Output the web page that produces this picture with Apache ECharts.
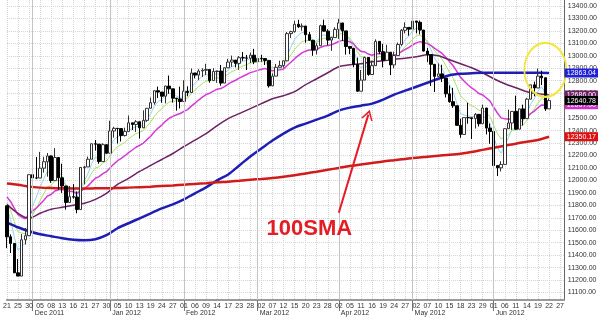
<!DOCTYPE html>
<html>
<head>
<meta charset="utf-8">
<script src="https://cdn.jsdelivr.net/npm/echarts@6/dist/echarts.min.js"></script>
<style>
  html, body { margin: 0; padding: 0; background: #fff; }
  #chart { width: 600px; height: 317px; }
</style>
</head>
<body>
<div id="chart"></div>
<script>
// trading sessions shown on the axis (last four are empty future days)
const monthDays = [
  ['Nov 2011', [21, 22, 23, 25, 28, 29, 30]],
  ['Dec 2011', [1, 2, 5, 6, 7, 8, 9, 12, 13, 14, 15, 16, 19, 20, 21, 22, 23, 27, 28, 29, 30]],
  ['Jan 2012', [3, 4, 5, 6, 9, 10, 11, 12, 13, 17, 18, 19, 20, 23, 24, 25, 26, 27, 30, 31]],
  ['Feb 2012', [1, 2, 3, 6, 7, 8, 9, 10, 13, 14, 15, 16, 17, 21, 22, 23, 24, 27, 28, 29]],
  ['Mar 2012', [1, 2, 5, 6, 7, 8, 9, 12, 13, 14, 15, 16, 19, 20, 21, 22, 23, 26, 27, 28, 29, 30]],
  ['Apr 2012', [2, 3, 4, 5, 9, 10, 11, 12, 13, 16, 17, 18, 19, 20, 23, 24, 25, 26, 27, 30]],
  ['May 2012', [1, 2, 3, 4, 7, 8, 9, 10, 11, 14, 15, 16, 17, 18, 21, 22, 23, 24, 25, 29, 30, 31]],
  ['Jun 2012', [1, 4, 5, 6, 7, 8, 11, 12, 13, 14, 15, 18, 19, 20, 21, 22, 25, 26, 27, 28]]
];

const opens = [11796, 11547, 11494, 11258, 11232, 11523, 11556, 12046, 12020, 12019,
  12098, 12150, 12196, 11998, 12184, 12021, 11955, 11823, 11869, 11866,
  11766, 12104, 12108, 12170, 12294, 12291, 12151, 12287, 12218, 12397,
  12418, 12416, 12360, 12393, 12462, 12449, 12471, 12422, 12482, 12579,
  12624, 12720, 12709, 12676, 12757, 12735, 12660, 12654, 12633, 12716,
  12705, 12862, 12845, 12878, 12884, 12890, 12801, 12874, 12878, 12781,
  12904, 12950, 12966, 12939, 12985, 12983, 12981, 13005, 12952, 12980,
  12978, 12963, 12759, 12837, 12908, 12922, 12960, 13178, 13194, 13253,
  13233, 13239, 13170, 13125, 13046, 13081, 13242, 13198, 13126, 13146,
  13212, 13264, 13200, 13075, 13060, 12930, 12716, 12805, 12987, 12850,
  12921, 13116, 13033, 12964, 13029, 12927, 13002, 13091, 13205, 13228,
  13214, 13279, 13269, 13207, 13038, 13009, 12932, 12835, 12855, 12821,
  12695, 12632, 12599, 12442, 12369, 12504, 12503, 12496, 12530, 12455,
  12581, 12420, 12393, 12119, 12101, 12128, 12415, 12461, 12554, 12411,
  12574, 12496, 12652, 12767, 12742, 12837, 12824, 12574];

const closes = [11547, 11494, 11258, 11232, 11523, 11556, 12046, 12020, 12019, 12098,
  12150, 12196, 11998, 12184, 12021, 11955, 11823, 11869, 11866, 11766,
  12104, 12108, 12170, 12294, 12291, 12151, 12287, 12218, 12397, 12418,
  12416, 12360, 12393, 12462, 12449, 12471, 12422, 12482, 12579, 12624,
  12720, 12709, 12676, 12757, 12735, 12660, 12654, 12633, 12716, 12705,
  12862, 12845, 12878, 12884, 12890, 12801, 12874, 12878, 12781, 12904,
  12950, 12966, 12939, 12985, 12983, 12981, 13005, 12952, 12980, 12978,
  12963, 12759, 12837, 12908, 12922, 12960, 13178, 13194, 13253, 13233,
  13239, 13170, 13125, 13046, 13081, 13242, 13198, 13126, 13146, 13212,
  13264, 13200, 13075, 13060, 12930, 12716, 12805, 12987, 12850, 12921,
  13116, 13033, 12964, 13029, 12927, 13002, 13091, 13205, 13228, 13214,
  13279, 13269, 13207, 13038, 13009, 12932, 12835, 12855, 12821, 12695,
  12632, 12599, 12442, 12369, 12504, 12503, 12496, 12530, 12455, 12581,
  12420, 12393, 12119, 12101, 12128, 12415, 12461, 12554, 12411, 12574,
  12496, 12652, 12767, 12742, 12837, 12824, 12574, 12640.78];

const lows = [11456, 11417, 11257, 11232, 11232, 11485, 11556, 11985, 12010, 12019,
  12062, 12030, 11980, 11998, 11925, 11900, 11765, 11823, 11854, 11736,
  11766, 11968, 12108, 12170, 12239, 12133, 12151, 12217, 12218, 12343,
  12296, 12312, 12352, 12393, 12404, 12389, 12336, 12420, 12470, 12578,
  12608, 12661, 12623, 12618, 12695, 12625, 12560, 12577, 12633, 12675,
  12705, 12819, 12804, 12830, 12845, 12784, 12801, 12783, 12760, 12781,
  12904, 12912, 12907, 12887, 12960, 12886, 12941, 12933, 12952, 12953,
  12926, 12745, 12759, 12837, 12907, 12905, 12958, 13143, 13186, 13224,
  13202, 13105, 13119, 13000, 13011, 13081, 13195, 13084, 13040, 13146,
  13136, 13119, 13010, 13013, 12908, 12711, 12716, 12805, 12840, 12850,
  12921, 13014, 12907, 12964, 12845, 12900, 13002, 13080, 13180, 13162,
  13175, 13180, 13172, 13035, 12951, 12758, 12710, 12834, 12789, 12666,
  12623, 12582, 12440, 12342, 12369, 12455, 12332, 12416, 12433, 12455,
  12369, 12294, 12107, 12035, 12072, 12128, 12413, 12405, 12408, 12411,
  12440, 12496, 12652, 12675, 12742, 12765, 12558, 12574];

const highs = [11796, 11566, 11494, 11369, 11569, 11618, 12046, 12055, 12188, 12229,
  12190, 12220, 12200, 12259, 12184, 12134, 11955, 11955, 11970, 11911,
  12107, 12117, 12191, 12294, 12324, 12291, 12298, 12287, 12479, 12430,
  12418, 12416, 12423, 12521, 12462, 12484, 12471, 12562, 12579, 12665,
  12720, 12753, 12709, 12760, 12842, 12735, 12660, 12752, 12804, 12755,
  12898, 12862, 12893, 12900, 12936, 12890, 12901, 12880, 12927, 12905,
  12976, 13002, 12966, 12998, 13030, 13007, 13026, 13056, 13032, 13008,
  12978, 12963, 12859, 12935, 12961, 12963, 13191, 13201, 13281, 13289,
  13260, 13239, 13191, 13125, 13101, 13250, 13290, 13213, 13153, 13229,
  13297, 13264, 13200, 13075, 13060, 12986, 12887, 12993, 12987, 12961,
  13132, 13116, 13096, 13089, 13029, 13034, 13107, 13216, 13269, 13228,
  13338, 13279, 13283, 13207, 13064, 13009, 12932, 12939, 12928, 12821,
  12762, 12743, 12599, 12495, 12504, 12623, 12503, 12541, 12533, 12607,
  12581, 12457, 12393, 12119, 12154, 12415, 12568, 12556, 12680, 12575,
  12608, 12663, 12767, 12793, 12898, 12881, 12824, 12658];

// short averages, one value per session
const avgCyan = [11782, 11686, 11543, 11439, 11467, 11497, 11680, 11793, 11868, 11945,
  12013, 12074, 12049, 12094, 12070, 12032, 11962, 11931, 11909, 11861,
  11942, 11997, 12055, 12135, 12187, 12175, 12212, 12214, 12275, 12323,
  12354, 12356, 12368, 12399, 12416, 12434, 12430, 12447, 12491, 12535,
  12597, 12634, 12648, 12684, 12701, 12687, 12676, 12662, 12680, 12688,
  12746, 12779, 12812, 12836, 12854, 12836, 12849, 12859, 12833, 12857,
  12888, 12914, 12922, 12943, 12956, 12964, 12978, 12969, 12973, 12975,
  12971, 12900, 12879, 12889, 12900, 12920, 13006, 13069, 13130, 13164,
  13189, 13183, 13164, 13125, 13110, 13154, 13169, 13155, 13152, 13172,
  13203, 13202, 13160, 13127, 13061, 12946, 12899, 12928, 12902, 12908,
  12977, 12996, 12985, 13000, 12976, 12985, 13020, 13082, 13131, 13159,
  13199, 13222, 13217, 13157, 13108, 13049, 12978, 12937, 12898, 12830,
  12764, 12709, 12620, 12536, 12525, 12518, 12511, 12517, 12496, 12524,
  12489, 12457, 12344, 12263, 12218, 12284, 12343, 12413, 12412, 12466,
  12476, 12535, 12612, 12655, 12716, 12752, 12693, 12676];

const avgGreen = [11819, 11760, 11669, 11589, 11577, 11573, 11659, 11725, 11779, 11837,
  11894, 11949, 11958, 11999, 12003, 11994, 11963, 11946, 11931, 11901,
  11938, 11969, 12006, 12058, 12100, 12109, 12141, 12155, 12199, 12239,
  12271, 12287, 12306, 12334, 12355, 12376, 12384, 12402, 12434, 12469,
  12515, 12550, 12573, 12606, 12629, 12635, 12638, 12637, 12651, 12661,
  12698, 12725, 12753, 12777, 12798, 12799, 12813, 12825, 12817, 12833,
  12854, 12874, 12886, 12904, 12918, 12929, 12943, 12945, 12951, 12956,
  12957, 12921, 12906, 12906, 12909, 12918, 12965, 13007, 13052, 13085,
  13113, 13123, 13123, 13109, 13104, 13129, 13142, 13139, 13140, 13153,
  13173, 13178, 13159, 13141, 13103, 13033, 12992, 12991, 12965, 12957,
  12986, 12995, 12989, 12996, 12983, 12986, 13005, 13041, 13075, 13100,
  13133, 13158, 13167, 13144, 13119, 13085, 13039, 13006, 12972, 12922,
  12869, 12820, 12751, 12681, 12649, 12622, 12599, 12586, 12562, 12565,
  12539, 12512, 12440, 12378, 12332, 12347, 12368, 12402, 12404, 12435,
  12446, 12483, 12535, 12573, 12621, 12658, 12643, 12643];

const avgMagenta = [11866, 11831, 11777, 11725, 11706, 11692, 11726, 11754, 11779, 11809,
  11841, 11875, 11887, 11915, 11925, 11928, 11918, 11913, 11909, 11895,
  11915, 11933, 11956, 11988, 12017, 12030, 12054, 12070, 12101, 12131,
  12158, 12177, 12198, 12223, 12244, 12266, 12281, 12300, 12327, 12355,
  12390, 12420, 12444, 12474, 12499, 12514, 12527, 12537, 12554, 12568,
  12596, 12620, 12645, 12668, 12689, 12700, 12717, 12732, 12737, 12753,
  12772, 12790, 12804, 12821, 12836, 12850, 12865, 12873, 12883, 12892,
  12899, 12886, 12881, 12884, 12888, 12895, 12922, 12948, 12977, 13001,
  13024, 13038, 13046, 13046, 13049, 13067, 13079, 13083, 13089, 13101,
  13116, 13124, 13119, 13113, 13096, 13060, 13036, 13031, 13014, 13005,
  13016, 13018, 13013, 13015, 13007, 13007, 13015, 13033, 13052, 13067,
  13087, 13104, 13114, 13107, 13098, 13082, 13059, 13040, 13019, 12988,
  12954, 12920, 12875, 12827, 12796, 12768, 12742, 12722, 12697, 12686,
  12661, 12636, 12587, 12541, 12502, 12494, 12491, 12497, 12489, 12497,
  12497, 12512, 12536, 12556, 12583, 12606, 12603, 12607];

// slow averages, read every third session
const slowStep = 3;
const avgPurple = [11808, 11736, 11696, 11736, 11768, 11784, 11800, 11816, 11848, 11896,
  11968, 12016, 12072, 12120, 12168, 12216, 12272, 12324, 12376, 12440,
  12496, 12536, 12576, 12616, 12656, 12680, 12712, 12768, 12816, 12864,
  12912, 12928, 12936, 12952, 12960, 12972, 12980, 12992, 13008, 13000,
  12968, 12936, 12904, 12864, 12816, 12776, 12744, 12712, 12696, 12686];
const sma100 = [11664, 11624, 11592, 11568, 11552, 11536, 11524, 11520, 11528, 11560,
  11616, 11656, 11696, 11736, 11776, 11808, 11848, 11896, 11944, 12000,
  12048, 12120, 12192, 12256, 12320, 12376, 12424, 12456, 12488, 12520,
  12560, 12584, 12600, 12616, 12648, 12688, 12720, 12752, 12784, 12816,
  12844, 12856, 12860, 12864, 12864, 12864, 12864, 12864, 12864, 12863.04];
const sma200 = [11975, 11965, 11950, 11942, 11938, 11936, 11935, 11935, 11936, 11937,
  11938, 11942, 11946, 11950, 11955, 11960, 11966, 11972, 11978, 11985,
  11990, 11997, 12005, 12012, 12020, 12030, 12042, 12056, 12070, 12085,
  12100, 12115, 12128, 12140, 12152, 12162, 12172, 12182, 12190, 12198,
  12205, 12214, 12228, 12245, 12262, 12278, 12295, 12310, 12325, 12350.17];

const priceTicks = [11100, 11200, 11300, 11400, 11500, 11600, 11700, 11800, 11900, 12000,
  12100, 12200, 12300, 12400, 12500, 12600, 12700, 12800, 12900, 13000,
  13100, 13200, 13300, 13400];

const days = [];
const dayLabels = [];
const monthStart = {};
monthDays.forEach(([name, list]) => {
  list.forEach((d, k) => {
    if (k === 0 && days.length) monthStart[days.length] = name;
    days.push(name + ' ' + d);
    dayLabels.push(String(d).padStart(2, '0'));
  });
});

const font = "'Liberation Sans Narrow', 'Liberation Sans', Arial, sans-serif";
const sparse = vals => vals.map((v, k) => [k * slowStep, v]);
const last = arr => arr[arr.length - 1];

function avgLine(name, data, color, width, smooth) {
  return {
    name, type: 'line', data, symbol: 'none', smooth: smooth || false, silent: true,
    lineStyle: { color, width }, z: 2
  };
}

// price tag in the right margin, drawn as the label of an invisible mark line
function tag(value, bg) {
  return { yAxis: value, label: { formatter: value.toFixed(2), backgroundColor: bg } };
}

const chart = echarts.init(document.getElementById('chart'));
chart.setOption({
  animation: false,
  backgroundColor: '#fff',
  grid: { left: 3, top: 0, width: 563, height: 301 },
  xAxis: [{
    type: 'category',
    data: days,
    boundaryGap: false,
    axisLine: { lineStyle: { color: '#9a9a9a', width: 2 } },
    axisTick: { show: false },
    axisLabel: {
      interval: i => i % 3 === 0,
      formatter: (v, i) => dayLabels[i],
      fontFamily: font, fontSize: 7, color: '#333', margin: 3
    },
    splitLine: { show: true, interval: i => i % 3 === 0, lineStyle: { color: '#d4d4d4', type: 'dotted' } }
  }, {
    type: 'category',
    data: days,
    boundaryGap: false,
    position: 'bottom',
    axisLine: { show: false },
    axisTick: { show: true, interval: i => i in monthStart, length: 11, lineStyle: { color: '#777' } },
    axisLabel: {
      interval: i => i in monthStart,
      formatter: (v, i) => monthStart[i] || '',
      align: 'left', padding: [0, 0, 0, 2],
      fontFamily: font, fontSize: 7, color: '#333', margin: 10
    },
    splitLine: { show: false }
  }],
  yAxis: {
    type: 'value',
    position: 'right',
    min: 11040,
    max: 13448,
    axisLine: { show: true, lineStyle: { color: '#666' } },
    axisTick: { show: false, customValues: priceTicks },
    axisLabel: {
      customValues: priceTicks,
      formatter: v => v.toFixed(2),
      fontFamily: font, fontSize: 7, color: '#333', margin: 4
    },
    splitLine: { show: true, lineStyle: { color: '#d4d4d4', type: 'dotted' } }
  },
  series: [
    {
      name: 'months', type: 'line', data: [], silent: true, z: 1,
      markLine: {
        silent: true, symbol: 'none', label: { show: false },
        lineStyle: { color: '#c4c4c4', type: 'solid', width: 1 },
        data: Object.keys(monthStart).map(i => ({ xAxis: Number(i) }))
      }
    },
    avgLine('cyan', avgCyan, '#8fd6ea', 1),
    avgLine('green', avgGreen, '#a8e066', 1),
    avgLine('magenta', avgMagenta, '#d63ad6', 1.5),
    avgLine('purple', sparse(avgPurple), '#6e2266', 1.5, 0.3),
    avgLine('100SMA', sparse(sma100), '#1e1eb4', 2.5, 0.3),
    avgLine('200SMA', sparse(sma200), '#d01c1c', 2.5, 0.3),
    {
      name: 'DJIA', type: 'candlestick', z: 3, barWidth: 3, silent: true,
      data: opens.map((o, i) => [o, closes[i], lows[i], highs[i]]),
      itemStyle: { color: '#fff', color0: '#000', borderColor: '#333', borderColor0: '#000', borderWidth: 1 }
    },
    {
      name: 'tags', type: 'line', data: [], silent: true, z: 5,
      markLine: {
        silent: true, symbol: 'none',
        lineStyle: { color: 'rgba(0,0,0,0)', width: 0, opacity: 1 },
        label: {
          show: true, position: 'end', distance: 1, opacity: 1,
          color: '#fff', fontFamily: font, fontSize: 7, padding: [1, 2, 1, 2]
        },
        data: [
          tag(last(sma100), '#2020d8'),
          tag(last(avgPurple), '#6e2266'),
          tag(last(avgMagenta), '#cc33cc'),
          tag(last(closes), '#000'),
          tag(last(sma200), '#e01010')
        ]
      }
    },
    {
      name: 'notes', type: 'line', data: [], silent: true, z: 6,
      markLine: {
        silent: true,
        symbol: ['none', 'path://M0,10 L5,0 L10,10 L8.6,10 L5,3 L1.4,10 Z'],
        symbolSize: [12, 10],
        lineStyle: { color: '#e41d25', width: 2, type: 'solid' },
        label: { show: false },
        data: [[{ coord: [90, 11740] }, { coord: [98, 12528] }]]
      },
      markPoint: {
        silent: true,
        data: [{
          coord: [82, 11608], symbolSize: 0,
          label: { show: true, position: 'inside', formatter: '100SMA', color: '#e41d25', fontSize: 22, fontWeight: 'bold', fontFamily: "'Liberation Sans', Arial, sans-serif" }
        }, {
          coord: [146, 12888], symbol: 'circle', symbolSize: [42, 54],
          itemStyle: { color: 'rgba(0,0,0,0)', borderColor: '#f2e640', borderWidth: 2 },
          label: { show: false }
        }]
      }
    }
  ]
});
</script>
</body>
</html>
